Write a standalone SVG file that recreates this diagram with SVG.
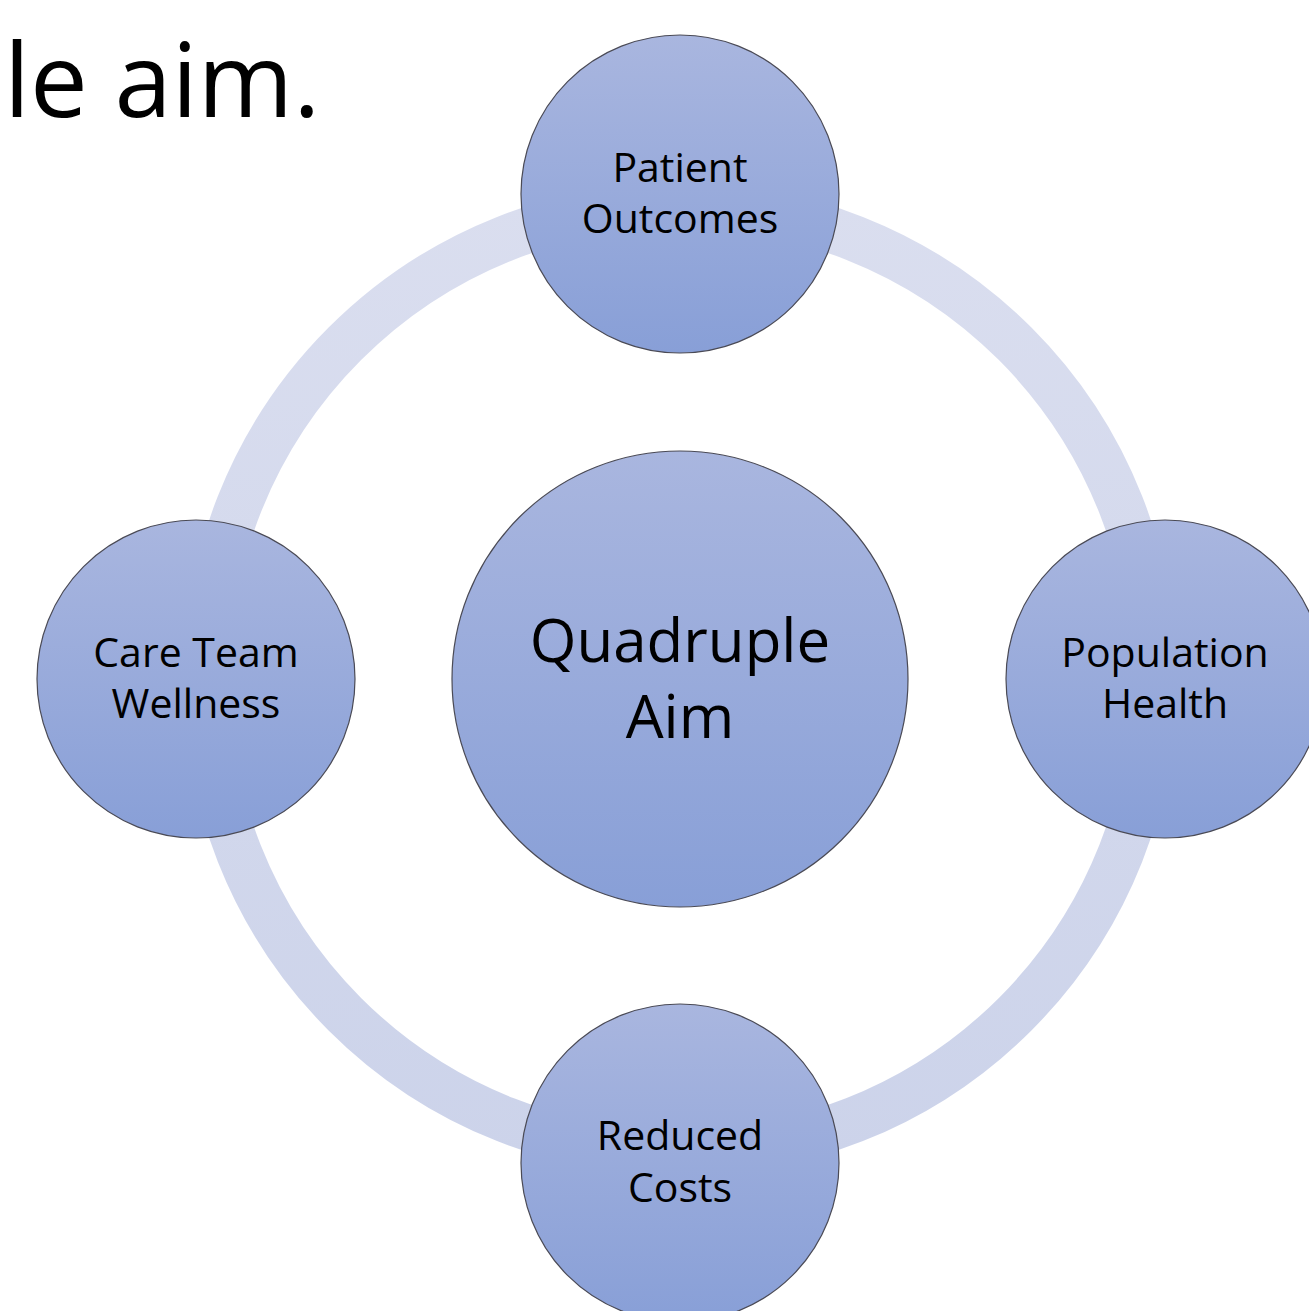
<svg xmlns="http://www.w3.org/2000/svg" width="1309" height="1311" viewBox="0 0 1309 1311">
  <defs>
    <linearGradient id="nodeFill" x1="0" y1="0" x2="0" y2="1">
      <stop offset="0" stop-color="#a9b6df"/>
      <stop offset="1" stop-color="#889fd7"/>
    </linearGradient>
    <linearGradient id="ringFill" gradientUnits="userSpaceOnUse" x1="0" y1="194" x2="0" y2="1164">
      <stop offset="0" stop-color="#dadeef"/>
      <stop offset="1" stop-color="#ccd3ea"/>
    </linearGradient>
    <style>
      .node { fill: url(#nodeFill); stroke: #4a4a55; stroke-width: 1.2; }
      .lbl { font-family: "Open Sans", "Noto Sans", "Liberation Sans", sans-serif; font-size: 41px; fill: #000; text-anchor: middle; }
      .big { font-size: 60px; }
    </style>
  </defs>
  <rect width="1309" height="1311" fill="#ffffff"/>
  <text x="4" y="117" font-family="'Open Sans', 'Noto Sans', sans-serif" font-size="103" fill="#000">le aim.</text>
  <g id="connectors">
    <circle cx="680" cy="679" r="474" fill="none" stroke="url(#ringFill)" stroke-width="46"/>
  </g>
  <g id="node-center">
    <circle class="node" cx="680" cy="679" r="228"/>
    <text class="lbl big" x="680" y="662">Quadruple</text>
    <text class="lbl big" x="680" y="738">Aim</text>
  </g>
  <g id="node-top">
    <circle class="node" cx="680" cy="194" r="159"/>
    <text class="lbl" x="680" y="182">Patient</text>
    <text class="lbl" x="680" y="233">Outcomes</text>
  </g>
  <g id="node-right">
    <circle class="node" cx="1165" cy="679" r="159"/>
    <text class="lbl" x="1165" y="667">Population</text>
    <text class="lbl" x="1165" y="718">Health</text>
  </g>
  <g id="node-bottom">
    <circle class="node" cx="680" cy="1163" r="159"/>
    <text class="lbl" x="680" y="1150">Reduced</text>
    <text class="lbl" x="680" y="1202">Costs</text>
  </g>
  <g id="node-left">
    <circle class="node" cx="196" cy="679" r="159"/>
    <text class="lbl" x="196" y="667">Care Team</text>
    <text class="lbl" x="196" y="718">Wellness</text>
  </g>
</svg>
